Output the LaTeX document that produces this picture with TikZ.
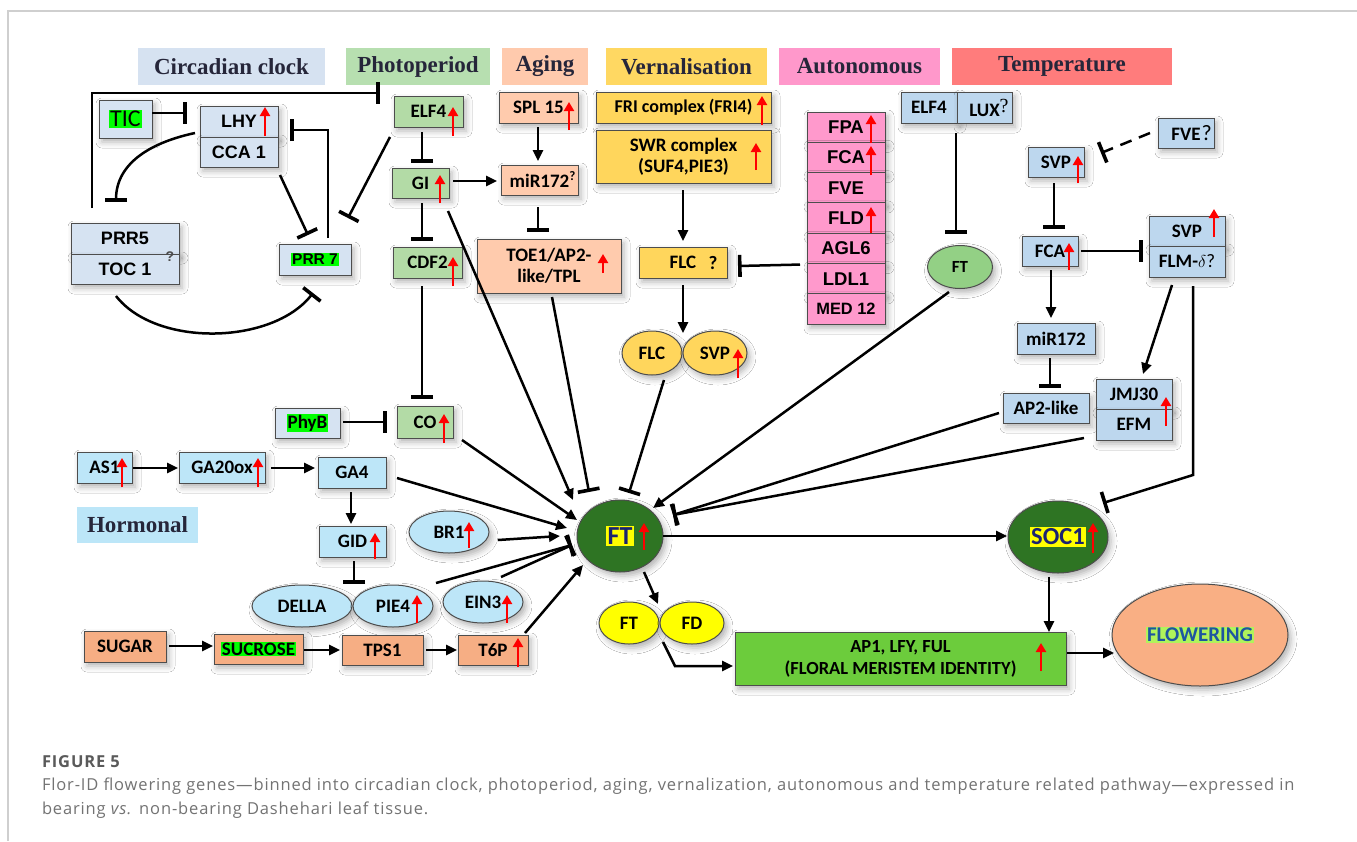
\documentclass[tikz,border=0pt]{standalone}
\usepackage{fontspec}
\setmainfont{Carlito}
\newfontfamily\arialf{Liberation Sans}
\newfontfamily\timesf{Liberation Serif}
\newfontfamily\capf[LetterSpace=5.2]{Open Sans}
\usetikzlibrary{arrows.meta,calc,shapes.geometric,shadows.blur}

\definecolor{circ}{HTML}{D6E3F2}
\definecolor{phot}{HTML}{B3DBA6}
\definecolor{age}{HTML}{FFCBAD}
\definecolor{vern}{HTML}{FFD65C}
\definecolor{auto}{HTML}{FF99CC}
\definecolor{temp}{HTML}{BDD7EE}
\definecolor{horm}{HTML}{BDE6F8}
\definecolor{sug}{HTML}{F6AE84}
\definecolor{ftdark}{HTML}{2E7423}
\definecolor{ftl}{HTML}{93D085}
\definecolor{ap1g}{HTML}{6CCC3C}
\definecolor{flw}{HTML}{F9AF84}
\definecolor{boxline}{HTML}{4D4D4D}
\definecolor{hdrtext}{HTML}{26263A}
\definecolor{navy}{HTML}{1B2470}
\definecolor{flwtext}{HTML}{1E56A0}
\definecolor{flwhl}{HTML}{B0F35B}
\definecolor{hlgreen}{HTML}{00FF00}
\definecolor{hlyellow}{HTML}{FFFF00}
\definecolor{capgray}{HTML}{737373}
\definecolor{figgray}{HTML}{5A5A5A}
\definecolor{framegray}{HTML}{CFCFCF}
\definecolor{hCirc}{HTML}{D6E2F1}
\definecolor{hPhot}{HTML}{B7DFB0}
\definecolor{hAge}{HTML}{FFCAAD}
\definecolor{hVern}{HTML}{FFD862}
\definecolor{hAuto}{HTML}{FF98CB}
\definecolor{hTemp}{HTML}{FF7C7C}
\definecolor{hHorm}{HTML}{BCE6F8}

\newcommand\hlg[1]{{\setlength\fboxsep{0.8pt}\colorbox{hlgreen}{#1}}}
\newcommand\hly[1]{{\setlength\fboxsep{1.5pt}\colorbox{hlyellow}{#1}}}

\tikzset{
  every node/.style={inner sep=0pt, outer sep=0pt},
  box/.style={draw=boxline, line width=1pt, rectangle, align=center, text=black,
    blur shadow={shadow xshift=3pt, shadow yshift=-4pt, shadow blur radius=6pt, shadow opacity=30},
    font=\fontsize{19}{21}\selectfont\bfseries},
  ell/.style={box, ellipse},
  cbox/.style={box, fill=circ, font=\arialf\bfseries\fontsize{18}{20}\selectfont},
  pbox/.style={box, fill=phot},
  abox/.style={box, fill=age},
  vbox/.style={box, fill=vern},
  aubox/.style={box, fill=auto, minimum width=78pt, minimum height=30.3pt, font=\arialf\bfseries\fontsize{18.5}{20}\selectfont},
  tbox/.style={box, fill=temp},
  hbox/.style={box, fill=horm},
  sbox/.style={box, fill=sug},
  hdr/.style={minimum height=37pt, font=\timesf\bfseries\fontsize{23}{25}\selectfont, text=hdrtext},
  conn/.style={line width=2.5pt, black},
  arr/.style={conn, -{Triangle[length=11pt,width=10pt]}},
  inh/.style={conn, -{Bar[width=22pt,line width=3.6pt]}},
  upr/.style={draw=red, line width=2.7pt, -{Triangle[length=9pt,width=10pt]}},
}

\begin{document}
\begin{tikzpicture}[x=1pt,y=-1pt]
\useasboundingbox (0,0) rectangle (1357,841);
\fill[white] (0,0) rectangle (1357,841);
\draw[framegray, line width=1.5pt] (8,841) -- (8,11) -- (1357,11);

% headers
\node[hdr, fill=hCirc, minimum width=187pt] (hCircN) at (231.5,66.5) {Circadian clock};
\node[hdr, fill=hPhot, minimum width=144pt] (hPhotN) at (418,66.5) {Photoperiod};
\node[hdr, fill=hAge, minimum width=86pt] (hAgeN) at (545,66.5) {Aging};
\node[hdr, fill=hVern, minimum width=161pt] (hVernN) at (686.5,66.5) {Vernalisation};
\node[hdr, fill=hAuto, minimum width=161pt] (hAutoN) at (859.5,66.5) {Autonomous};
\node[hdr, fill=hTemp, minimum width=220pt] (hTempN) at (1062,66.5) {Temperature};
\node[hdr, fill=hHorm, minimum width=121pt, minimum height=36pt] (hHormN) at (137.5,525) {Hormonal};

% circadian clock
\node[box, fill=circ, minimum width=53pt, minimum height=38pt, font=\fontsize{24}{26}\selectfont] (TIC) at (125.5,119) {\hlg{TIC}};
\node[cbox, minimum width=78pt, minimum height=31pt] (LHY) at (239,121.5) {LHY};
\node[cbox, minimum width=78pt, minimum height=30pt] (CCA) at (239,152) {CCA 1};
\node[cbox, minimum width=108pt, minimum height=31pt] (PRR5) at (125,238.5) {PRR5};
\node[cbox, minimum width=108pt, minimum height=30pt] (TOC) at (125,269) {TOC 1};
\node[font=\arialf\bfseries\fontsize{14}{14}\selectfont, text=black!70] (qTOC) at (170,257) {?};
\node[cbox, minimum width=72pt, minimum height=31pt, font=\arialf\bfseries\fontsize{15.5}{17}\selectfont] (PRR7) at (315,259.5) {\hlg{PRR 7}};

% photoperiod
\node[pbox, minimum width=69pt, minimum height=31pt] (ELF4) at (428.5,111.5) {ELF4};
\node[pbox, minimum width=57pt, minimum height=30pt] (GI) at (420.5,183) {GI};
\node[pbox, minimum width=69pt, minimum height=31pt] (CDF2) at (427.5,262.5) {CDF2};
\node[pbox, minimum width=56pt, minimum height=32pt] (CO) at (425,422) {CO};

% aging
\node[abox, minimum width=79pt, minimum height=31pt] (SPL) at (538.5,107.5) {SPL 15};
\node[abox, minimum width=77pt, minimum height=30pt] (MIRa) at (539.5,180) {miR172\rlap{\raisebox{7pt}{\fontsize{13}{14}\selectfont ?}}};
\node[abox, minimum width=144pt, minimum height=54pt] (TOE) at (549,266) {TOE1/AP2-\\like/TPL};

% vernalisation
\node[vbox, minimum width=175pt, minimum height=31pt, font=\fontsize{18}{20}\selectfont\bfseries] (FRI) at (683.5,107.5) {FRI complex (FRI4)};
\node[vbox, minimum width=175pt, minimum height=53pt] (SWR) at (683.5,156.5) {SWR complex\\(SUF4,PIE3)};
\node[vbox, minimum width=88pt, minimum height=31pt] (FLCb) at (683,262.5) {FLC};
\node[font=\fontsize{19}{20}\selectfont\bfseries] (qFLC) at (713,263) {?};
\node[ell, fill=vern, minimum width=60pt, minimum height=44pt] (FLCe) at (652,353) {FLC};
\node[ell, fill=vern, minimum width=64pt, minimum height=44pt] (SVPe) at (715,353) {SVP};

% autonomous
\node[aubox] (FPA) at (846,127.2) {FPA};
\node[aubox] (FCAa) at (846,157.5) {FCA};
\node[aubox] (FVEa) at (846,187.8) {FVE};
\node[aubox] (FLD) at (846,218.1) {FLD};
\node[aubox] (AGL6) at (846,248.4) {AGL6};
\node[aubox] (LDL1) at (846,278.7) {LDL1};
\node[aubox, font=\arialf\bfseries\fontsize{16.4}{18}\selectfont] (MED) at (846,309.0) {MED 12};

% temperature
\node[tbox, minimum width=56pt, minimum height=31pt] (ELF4t) at (929,107.5) {ELF4};
\node[tbox, minimum width=55pt, minimum height=31pt] (LUX) at (984.5,107.5) {LUX\rlap{\raisebox{4pt}{\timesf\mdseries\fontsize{20}{20}\selectfont ?}}};
\node[ell, fill=ftl, minimum width=65pt, minimum height=43pt, font=\fontsize{17}{18}\selectfont\bfseries] (FTt) at (960,267) {FT};
\node[tbox, minimum width=56pt, minimum height=30pt] (SVPt) at (1056,162) {SVP};
\node[tbox, minimum width=56pt, minimum height=30pt] (FVE) at (1186,133) {FVE\rlap{\kern1pt\mdseries\fontsize{22}{22}\selectfont ?}};
\node[tbox, minimum width=56pt, minimum height=30pt] (FCAt) at (1050,251) {FCA};
\node[tbox, minimum width=76pt, minimum height=30pt] (SVPf) at (1187,231) {SVP};
\node[tbox, minimum width=76pt, minimum height=31pt] (FLM) at (1187,261.5) {FLM-$\delta$\mdseries ?};
\node[tbox, minimum width=78pt, minimum height=31pt] (MIRt) at (1056,338.5) {miR172};
\node[tbox, minimum width=86pt, minimum height=30pt] (AP2) at (1046,408) {AP2-like};
\node[tbox, minimum width=76pt, minimum height=30pt] (JMJ) at (1134,394) {JMJ30};
\node[tbox, minimum width=76pt, minimum height=31pt] (EFM) at (1134,424.5) {EFM};

% hormonal
\node[hbox, minimum width=55pt, minimum height=31pt] (AS1) at (104.5,467.5) {AS1};
\node[hbox, minimum width=86pt, minimum height=31pt] (GA20) at (222,467.5) {GA20ox};
\node[hbox, minimum width=68pt, minimum height=31pt] (GA4) at (352,472.5) {GA4};
\node[hbox, minimum width=67pt, minimum height=31pt] (GID) at (352.5,541.5) {GID};
\node[box, fill=circ, minimum width=65pt, minimum height=30pt, font=\fontsize{19}{20}\selectfont\bfseries] (PhyB) at (307.5,423) {\hlg{PhyB}};
\node[ell, fill=horm, minimum width=100pt, minimum height=42pt] (DELLA) at (302,606) {DELLA};
\node[ell, fill=horm, minimum width=80pt, minimum height=42pt] (PIE4) at (393,606) {PIE4};
\node[ell, fill=horm, minimum width=80pt, minimum height=42pt] (BR1) at (449,532) {BR1};
\node[ell, fill=horm, minimum width=80pt, minimum height=42pt] (EIN3) at (483,602) {EIN3};

% sugar
\node[sbox, minimum width=82pt, minimum height=31pt] (SUGAR) at (125,646.5) {SUGAR};
\node[sbox, minimum width=89pt, minimum height=30pt] (SUCR) at (258.5,649) {\hlg{SUCROSE}};
\node[sbox, minimum width=81pt, minimum height=30pt] (TPS1) at (382.5,650) {TPS1};
\node[sbox, minimum width=70pt, minimum height=30pt] (T6P) at (493,650) {T6P};

% central
\node[ell, fill=ftdark, minimum width=86pt, minimum height=72pt, font=\fontsize{26}{28}\selectfont\bfseries] (FT) at (620,536) {\hly{\textcolor{navy}{FT}}};
\node[ell, fill=ftdark, minimum width=100pt, minimum height=72pt, font=\fontsize{24.5}{28}\selectfont\bfseries] (SOC1) at (1058,537) {\hly{\textcolor{navy}{SOC1}}};
\node[ell, fill=hlyellow, minimum width=60pt, minimum height=42pt] (FTs) at (629,623) {FT};
\node[ell, fill=hlyellow, minimum width=64pt, minimum height=42pt] (FD) at (692,623) {FD};
\node[box, fill=ap1g, minimum width=331pt, minimum height=53pt, font=\fontsize{18.5}{22}\selectfont\bfseries] (AP1) at (900.5,658.5) {AP1, LFY, FUL\\(FLORAL MERISTEM IDENTITY)};
\node[ell, fill=flw, minimum width=176pt, minimum height=102pt, font=\fontsize{21}{22}\selectfont\bfseries] (FLW) at (1200,635) {{\setlength\fboxsep{1pt}\colorbox{flwhl}{\textcolor{flwtext}{FLOWERING}}}};

% connectors: circadian
\draw[inh] ($(PRR5.north west)+(21,-15)$) |- ($(ELF4.north west)+(-14,-3)$);
\draw[inh] ($(TIC.east)+(0,-6)$) -- ($(LHY.west)+(-13,-8.5)$);
\draw[inh] ($(LHY.south west)+(-5,-4)$) to[out=192,in=90] ($(PRR5.north)+(-9,-21)$);
\draw[inh] ($(CCA.south east)+(2,8)$) -- ($(PRR7.north)+(-7,-9)$);
\draw[inh] ($(PRR7.north)+(13,-6)$) |- ($(LHY.east)+(12,8.5)$);
\draw[inh] ($(ELF4.south west)+(-4,10)$) -- ($(PRR7.north east)+(-3,-26)$);
\draw[inh] ($(TOC.south)+(-9,12)$) to[out=-52,in=-128,looseness=0.85] ($(PRR7.south)+(-2,18)$);

% photoperiod / aging / vernalisation
\draw[inh] ($(ELF4.south)+(-6.5,5)$) -- ($(GI.north)+(1.5,-5)$);
\draw[arr] ($(GI.east)+(4,-2)$) -- ($(MIRa.west)+(-4,1)$);
\draw[inh] ($(GI.south)+(1.5,5)$) -- ($(CDF2.north)+(-5.5,-6)$);
\draw[inh] ($(CDF2.south)+(-5.5,8)$) -- ($(CO.north)+(-3,-7)$);
\draw[inh] ($(PhyB.east)+(3,-1)$) -- ($(CO.west)+(-10,0)$);
\draw[arr] ($(SPL.south)+(-0.5,4)$) -- ($(MIRa.north)+(-1.5,-4)$);
\draw[inh] ($(MIRa.south)+(-1.5,12)$) -- ($(TOE.north)+(-11,-7)$);
\draw[arr] ($(SWR.south)+(-0.5,7)$) -- ($(FLCb.north)+(0,-6)$);
\draw[inh] ($(AGL6.south west)+(-7,1)$) -- ($(FLCb.east)+(11,3.5)$);
\draw[arr] ($(FLCb.south)+(0,7)$) -- ($(FLCe.east)+(1,-20)$);

% into FT
\draw[inh] ($(FLCe.south)+(12,5)$) -- ($(FT.center)+(9,-43)$);
\draw[arr] ($(GI.south east)+(-1,13)$) -- ($(FT.center)+(-47,-36)$);
\draw[inh] ($(TOE.south)+(3,4)$) -- ($(FT.center)+(-31,-44)$);
\draw[arr] ($(CO.south east)+(9,2)$) -- ($(FT.center)+(-43,-16)$);
\draw[arr] ($(GA4.east)+(11,5.5)$) -- ($(FT.center)+(-53,-8)$);
\draw[arr] ($(BR1.center)+(49,8)$) -- ($(FT.center)+(-60,0)$);
\draw[inh] ($(PIE4.center)+(43,-23)$) -- ($(FT.center)+(-48,9)$);
\draw[inh] ($(EIN3.center)+(18,-25)$) -- ($(FT.center)+(-48,9)$);
\draw[arr] ($(T6P.north east)+(-3,-2)$) -- ($(FT.center)+(-37,29)$);
\draw[arr] ($(FTt.south)+(-11,3.5)$) -- ($(FT.center)+(33,-28)$);
\draw[inh] ($(AP2.west)+(-4,5)$) -- ($(FT.center)+(53,-21)$);
\draw[inh] ($(EFM.south west)+(-12,-2)$) -- ($(FT.center)+(53,-21)$);

% hormonal chain
\draw[arr] ($(AS1.east)+(1,0.5)$) -- ($(GA20.west)+(-1,0.5)$);
\draw[arr] ($(GA20.east)+(6,0.5)$) -- ($(GA4.west)+(-3,-4.5)$);
\draw[arr] ($(GA4.south)+(-1,4)$) -- ($(GID.north)+(-1.5,-2)$);
\draw[inh] ($(GID.south)+(1.5,4)$) -- ($(PIE4.west)+(1,-22)$);
\draw[arr] ($(SUGAR.east)+(3,-0.5)$) -- ($(SUCR.west)+(-1,-3)$);
\draw[arr] ($(SUCR.east)+(1,1)$) -- ($(TPS1.west)+(-2,0)$);
\draw[arr] ($(TPS1.east)+(3,0)$) -- ($(T6P.west)+(-1,0)$);

% out of FT
\draw[arr] (FT.east) -- ($(SOC1.west)+(-1,-1)$);
\draw[arr] ($(FT.center)+(24,36)$) -- ($(FTs.center)+(29,-19)$);
\draw[arr] ($(FD.center)+(-29,19)$) -- ++(12,24) -- ($(AP1.west)+(-2,7.5)$);
\draw[arr] ($(SOC1.south)+(-9,4)$) -- ($(AP1.north east)+(-17,0)$);
\draw[arr] ($(AP1.east)+(1,-5.5)$) -- ($(FLW.center)+(-86,18)$);

% temperature
\draw[inh] ($(ELF4t.south east)+(-1,10)$) -- ($(FTt.north)+(-4,-11.5)$);
\draw[inh, dash pattern=on 12pt off 8pt] ($(FVE.west)+(-8,0)$) -- ($(SVPt.north east)+(17,6)$);
\draw[inh] ($(SVPt.south)+(-2,6)$) -- ($(FCAt.north)+(4,-7)$);
\draw[inh] ($(FCAt.east)+(3,0)$) -- ($(SVPf.south west)+(-6,5)$);
\draw[arr] ($(FCAt.south)+(1,4)$) -- ($(MIRt.north)+(-5,-5)$);
\draw[inh] ($(MIRt.south)+(-6,4)$) -- ($(AP2.north)+(4,-5)$);
\draw[arr] ($(FLM.south)+(-15,8)$) -- ($(JMJ.north)+(9,-5)$);
\draw[inh] ($(FLM.south)+(6,9)$) -- ++(0,189) -- ($(SOC1.center)+(45,-34)$);

% red up-regulation arrows
\foreach \x/\a/\b in {265/136/107, 453/136/107, 440/203/175, 453/286/257, 444/443/414,
  569/130/102, 603/273/254, 762/125/96, 756/170/143, 871/143/115, 871/175/146, 871/233/207,
  738/378/349, 1078/183/156, 1069/270/243, 1214/237/209, 1166/426/397,
  122/487/458, 258/487/458, 375/559/533, 469/548/522, 417/623/595, 507/623/595, 518/667/638,
  644/550/523, 1093/553/523, 1041/671/643}
  \draw[upr] (\x,\a) -- (\x,\b);

% caption
\node[anchor=base west, font=\capf\bfseries\fontsize{16.5}{20}\selectfont, text=figgray] (figno) at (42,767) {FIGURE 5};
\node[anchor=base west, font=\capf\fontsize{16.5}{20}\selectfont, text=capgray] (cap1) at (42,790) {Flor-ID flowering genes—binned into circadian clock, photoperiod, aging, vernalization, autonomous and temperature related pathway—expressed in};
\node[anchor=base west, font=\capf\fontsize{16.5}{20}\selectfont, text=capgray] (cap2) at (42,814) {bearing \textit{vs.} non-bearing Dashehari leaf tissue.};
\end{tikzpicture}
\end{document}
